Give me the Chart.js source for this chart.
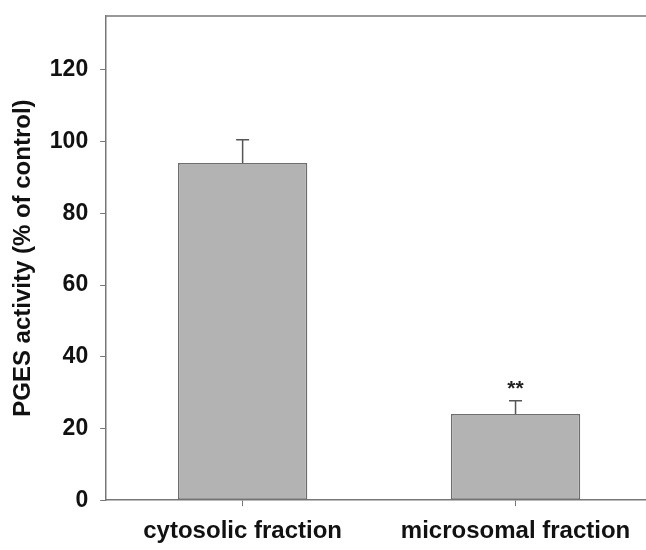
<!DOCTYPE html>
<html>
<head>
<meta charset="utf-8">
<script src="https://cdn.jsdelivr.net/npm/chart.js@4/dist/chart.umd.min.js"></script>
<style>
  html, body { margin: 0; padding: 0; background: #fff; overflow: hidden; }
  #wrap { width: 652px; height: 559px; }
</style>
</head>
<body>
<div id="wrap"><canvas id="pges"></canvas></div>
<script>
// PGES activity by fraction
const fractions = ['cytosolic fraction', 'microsomal fraction'];
const activity = [94, 24];
const activityErr = [6.5, 3.7];
const significance = ['', '**'];
const yTicks = [0, 20, 40, 60, 80, 100, 120];

const FONT = 'Liberation Sans, Arial, sans-serif';

// upward error bars with a cap, plus significance stars
const errorBars = {
  id: 'errorBars',
  afterDatasetsDraw(chart) {
    const { ctx, scales: { x, y } } = chart;
    ctx.save();
    ctx.strokeStyle = '#555';
    ctx.lineWidth = 1.5;
    activity.forEach((v, i) => {
      const cx = x.getPixelForValue(i);
      const top = y.getPixelForValue(v + activityErr[i]);
      const base = y.getPixelForValue(v);
      ctx.beginPath();
      ctx.moveTo(cx, base);
      ctx.lineTo(cx, top);
      ctx.moveTo(cx - 6.5, top);
      ctx.lineTo(cx + 6.5, top);
      ctx.stroke();
      if (significance[i]) {
        ctx.fillStyle = '#222';
        ctx.font = 'bold 21px ' + FONT;
        ctx.textAlign = 'center';
        ctx.textBaseline = 'alphabetic';
        ctx.fillText(significance[i], cx, top - 6);
      }
    });
    ctx.restore();
  }
};

// frame line along the top of the plot
const topFrame = {
  id: 'topFrame',
  afterDraw(chart) {
    const { ctx, chartArea: a } = chart;
    ctx.save();
    ctx.strokeStyle = '#777';
    ctx.lineWidth = 1.5;
    ctx.beginPath();
    ctx.moveTo(a.left, a.top);
    ctx.lineTo(a.right, a.top);
    ctx.stroke();
    ctx.restore();
  }
};

new Chart(document.getElementById('pges'), {
  type: 'bar',
  data: {
    labels: fractions,
    datasets: [{
      data: activity,
      backgroundColor: '#b3b3b3',
      borderColor: '#6e6e6e',
      borderWidth: 1.5,
      borderSkipped: false,
      categoryPercentage: 1,
      barPercentage: 0.474
    }]
  },
  options: {
    responsive: true,
    maintainAspectRatio: false,
    animation: false,
    layout: { padding: { top: 16, right: 0, bottom: 2, left: 0 } },
    plugins: { legend: { display: false }, tooltip: { enabled: false } },
    scales: {
      x: {
        grid: {
          display: true,
          drawOnChartArea: false,
          drawTicks: true,
          tickLength: 6,
          offset: false,
          color: '#777'
        },
        border: { color: '#777', width: 1.5 },
        ticks: {
          color: '#111',
          font: { family: FONT, size: 24, weight: 'bold' },
          padding: 11
        }
      },
      y: {
        min: 0,
        max: 135,
        afterBuildTicks(scale) {
          scale.ticks = yTicks.map(v => ({ value: v }));
        },
        // top tick is 120, so no room is needed above/below for labels
        afterFit(scale) {
          scale.paddingTop = 0;
          scale.paddingBottom = 0;
        },
        grid: {
          drawOnChartArea: false,
          drawTicks: true,
          tickLength: 6,
          color: '#777'
        },
        border: { color: '#777', width: 1.5 },
        ticks: {
          color: '#111',
          font: { family: FONT, size: 23, weight: 'bold' },
          padding: 12
        },
        title: {
          display: true,
          text: 'PGES activity (% of control)',
          color: '#111',
          font: { family: FONT, size: 24, weight: 'bold' },
          padding: { top: 9, bottom: 0 }
        }
      }
    }
  },
  plugins: [errorBars, topFrame]
});
</script>
</body>
</html>
